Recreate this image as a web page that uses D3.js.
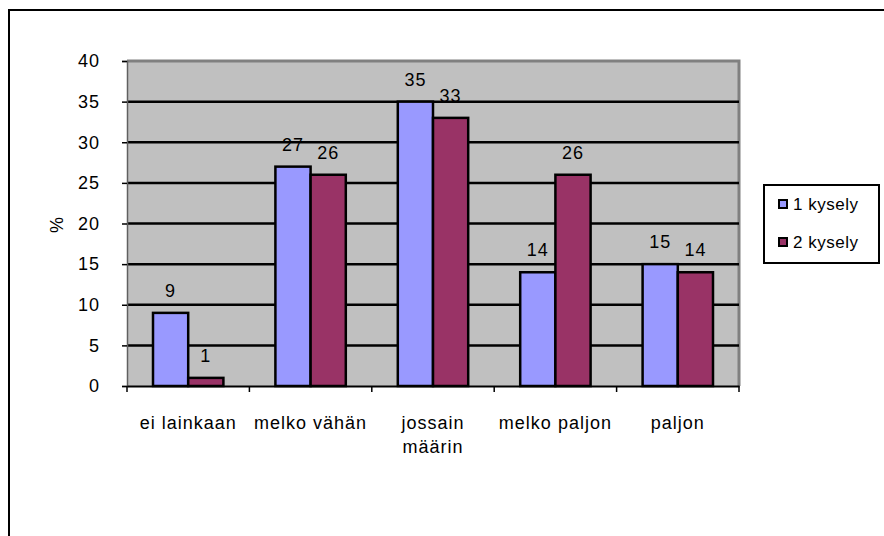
<html>
<head>
  <script src="https://d3js.org/d3.v7.min.js"></script>
  <style>
    body { margin: 0; background: white; }
    text { font-family: "Liberation Sans", Arial, sans-serif; fill: black; }
  </style>
</head>
<body>
  <svg id="chart" width="884" height="536"></svg>
  <script>
    // data
    let categories = [["ei lainkaan"], ["melko vähän"], ["jossain", "määrin"], ["melko paljon"], ["paljon"]];
    let series1 = [9, 27, 35, 14, 15];
    let series2 = [1, 26, 33, 26, 14];
    let seriesNames = ["1 kysely", "2 kysely"];
    let colors = ["#9999ff", "#993366"];
    let yTicks = [0, 5, 10, 15, 20, 25, 30, 35, 40];

    let svg = d3.select("#chart");

    // outer frame (only top + left visible in the image)
    svg.append("path")
      .attr("d", "M9,536 L9,10 L884,10")
      .attr("fill", "none")
      .attr("stroke", "black")
      .attr("stroke-width", 2);

    let plotLeft = 127, plotRight = 739, plotTop = 61, plotBottom = 386;

    let x = d3.scaleBand().domain(d3.range(categories.length)).range([plotLeft, plotRight]).paddingInner(0).paddingOuter(0);
    let inner = d3.scaleBand().domain([0, 1]).range([26, x.bandwidth() - 26]);
    let y = d3.scaleLinear().domain([0, 40]).range([plotBottom, plotTop]);

    // plot background
    svg.append("rect")
      .attr("x", plotLeft).attr("y", plotTop)
      .attr("width", plotRight - plotLeft).attr("height", plotBottom - plotTop)
      .attr("fill", "#c0c0c0");
    // plot border: gray top / right
    svg.append("path")
      .attr("d", `M${plotLeft},${plotTop} L${plotRight},${plotTop} L${plotRight},${plotBottom}`)
      .attr("fill", "none").attr("stroke", "#808080").attr("stroke-width", 3);

    // gridlines
    svg.selectAll("line.grid")
      .data(yTicks.filter(d => d > 0 && d < 40))
      .join("line")
      .attr("class", "grid")
      .attr("x1", plotLeft).attr("x2", plotRight)
      .attr("y1", d => y(d)).attr("y2", d => y(d))
      .attr("stroke", "black").attr("stroke-width", 2.5);

    // y axis
    let yAxis = d3.axisLeft(y).tickValues(yTicks).tickSize(5).tickPadding(22);
    let gy = svg.append("g").attr("transform", `translate(${plotLeft},0)`).call(yAxis);
    gy.select(".domain").attr("stroke", "#606060").attr("stroke-width", 1.5);
    gy.selectAll(".tick line").attr("stroke", "black").attr("stroke-width", 1.5);
    gy.selectAll(".tick text")
      .style("font-size", "18px")
      .style("letter-spacing", "1px")
      .attr("fill", "black");

    // bars
    let allSeries = [series1, series2];
    allSeries.forEach((s, si) => {
      svg.selectAll("rect.s" + si)
        .data(s)
        .join("rect")
        .attr("class", "s" + si)
        .attr("x", (d, i) => x(i) + inner(si))
        .attr("y", d => y(d))
        .attr("width", inner.bandwidth())
        .attr("height", d => plotBottom - y(d))
        .attr("fill", colors[si])
        .attr("stroke", "black")
        .attr("stroke-width", 2.5);

      svg.selectAll("text.v" + si)
        .data(s)
        .join("text")
        .attr("class", "v" + si)
        .attr("x", (d, i) => x(i) + inner(si) + inner.bandwidth() / 2)
        .attr("y", d => y(d) - 16)
        .attr("text-anchor", "middle")
        .style("font-size", "18px")
        .style("letter-spacing", "1px")
        .text(d => d);
    });

    // x axis
    let xAxis = d3.axisBottom(x).tickValues([]).tickSize(0);
    let gx = svg.append("g").attr("transform", `translate(0,${plotBottom})`).call(xAxis);
    gx.select(".domain").attr("stroke", "black").attr("stroke-width", 2);
    // category boundary ticks
    svg.selectAll("line.xt")
      .data(d3.range(categories.length + 1))
      .join("line")
      .attr("class", "xt")
      .attr("x1", d => plotLeft + d * x.bandwidth()).attr("x2", d => plotLeft + d * x.bandwidth())
      .attr("y1", plotBottom).attr("y2", plotBottom + 6)
      .attr("stroke", "black").attr("stroke-width", 1.5);

    let labels = svg.selectAll("text.cat")
      .data(categories)
      .join("text")
      .attr("class", "cat")
      .attr("text-anchor", "middle")
      .attr("y", 429)
      .style("font-size", "18px")
      .style("letter-spacing", "1px");
    labels.each(function (lines, i) {
      d3.select(this).selectAll("tspan")
        .data(lines)
        .join("tspan")
        .attr("x", x(i) + x.bandwidth() / 2)
        .attr("dy", (d, j) => j === 0 ? 0 : 24)
        .text(d => d);
    });

    // y title
    svg.append("text")
      .attr("transform", "translate(63,225) rotate(-90)")
      .attr("text-anchor", "middle")
      .style("font-size", "18px")
      .text("%");

    // legend
    let legend = svg.append("g");
    legend.append("rect")
      .attr("x", 764).attr("y", 185).attr("width", 115).attr("height", 78)
      .attr("fill", "white").attr("stroke", "black").attr("stroke-width", 2);
    seriesNames.forEach((name, i) => {
      let ly = 204 + i * 38;
      legend.append("rect")
        .attr("x", 779).attr("y", ly - 4).attr("width", 8).attr("height", 8)
        .attr("fill", colors[i]).attr("stroke", "black").attr("stroke-width", 2);
      legend.append("text")
        .attr("x", 793).attr("y", ly + 6)
        .style("font-size", "17px")
        .style("letter-spacing", "0.5px")
        .text(name);
    });
  </script>
</body>
</html>
